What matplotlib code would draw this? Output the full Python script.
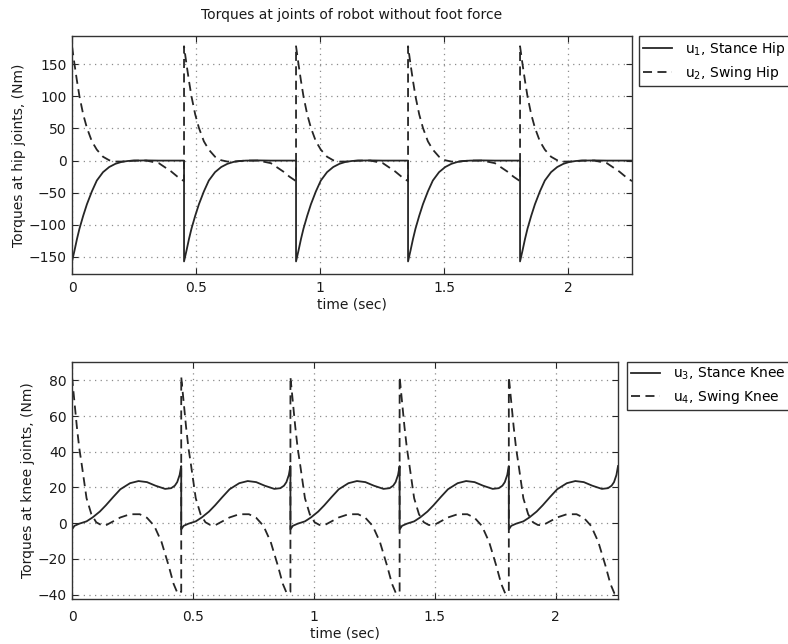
import numpy as np
import matplotlib
matplotlib.use('Agg')
import matplotlib.pyplot as plt

plt.rcParams['font.family'] = ['DejaVu Sans']
plt.rcParams['mathtext.default'] = 'regular'
plt.rcParams['font.size'] = 10

# one walking step, repeated for every step of the gait
step_time = 0.4516
n_steps = 5

# hip torques over one step (Nm)
hip_dt = [0, 0.01, 0.02, 0.03, 0.045, 0.06, 0.08, 0.10, 0.125, 0.15, 0.175,
          0.2, 0.225, 0.25, 0.3, 0.35, 0.4, 0.425, 0.4516]
u1_hip = [-157, -140, -122, -106, -86, -68, -48, -31, -18, -10, -5,
          -2, -0.6, 0, 0.3, 0, 0, 0, 0]
u2_hip = [178, 150, 124, 100, 72, 51, 30, 17, 6, 0.5, -1.5,
          -1.5, -0.7, 0, 0, -4, -17, -25, -32]

# knee torques over one step (Nm)
u3_dt = [0, 0.01, 0.03, 0.06, 0.085, 0.115, 0.14, 0.17, 0.2, 0.24, 0.275,
         0.31, 0.345, 0.385, 0.41, 0.425, 0.435, 0.445, 0.4516]
u3_knee = [-3.5, -1.5, -0.3, 1.0, 3.2, 6.5, 10, 14.6, 19, 22.4, 23.6,
           23, 21, 19.2, 19.6, 21, 23, 27, 32]
u4_dt = [0, 0.01, 0.02, 0.03, 0.04, 0.06, 0.08, 0.1, 0.12, 0.14, 0.17,
         0.2, 0.24, 0.28, 0.31, 0.34, 0.37, 0.4, 0.42, 0.437, 0.4516]
u4_knee = [82, 68, 54, 42, 33, 14, 5, 0.5, -1, -1.2, 1,
           3.2, 5, 5, 3, -1.5, -10.5, -24, -34, -39.5, -38.5]


def whole_gait(dt, vals):
    t = np.concatenate([k * step_time + np.asarray(dt) for k in range(n_steps)])
    v = np.tile(vals, n_steps)
    return t, v


def style_axes(ax, yticks, ylim, xpad):
    ax.set_xlim(0, 2.258)
    ax.set_ylim(*ylim)
    ax.set_xticks([0, 0.5, 1, 1.5, 2])
    ax.set_xticklabels(['0', '0.5', '1', '1.5', '2'])
    ax.set_yticks(yticks)
    ax.tick_params(direction='in', length=4, width=0.8, top=True, right=True,
                   colors='0.15', labelcolor='0.1', labelsize=10, pad=4)
    ax.tick_params(axis='x', pad=xpad)
    ax.grid(True, color='0.55', linestyle=(0, (1, 3.5)), linewidth=0.9)
    for s in ax.spines.values():
        s.set_color('0.2')
        s.set_linewidth(1.0)


fig = plt.figure(figsize=(7.88, 6.44), dpi=100)
ax1 = fig.add_axes([0.0914, 0.5745, 0.7107, 0.3696])
ax2 = fig.add_axes([0.0914, 0.0699, 0.6929, 0.3685])

dash = (0, (5, 3))
lc = '0.15'

t, v = whole_gait(hip_dt, u1_hip)
ax1.plot(t, v, color=lc, lw=1.3, label='u$_1$, Stance Hip')
t, v = whole_gait(hip_dt, u2_hip)
ax1.plot(t, v, color=lc, lw=1.3, linestyle=dash, label='u$_2$, Swing Hip')
style_axes(ax1, [-150, -100, -50, 0, 50, 100, 150], (-176.6, 194), 5)
ax1.set_title('Torques at joints of robot without foot force', fontsize=10, pad=12, color='0.1')
ax1.set_xlabel('time (sec)', labelpad=2, color='0.1')
ax1.set_ylabel('Torques at hip joints, (Nm)', labelpad=2, color='0.1')

t, v = whole_gait(u3_dt, u3_knee)
ax2.plot(t, v, color=lc, lw=1.3, label='u$_3$, Stance Knee')
t, v = whole_gait(u4_dt, u4_knee)
ax2.plot(t, v, color=lc, lw=1.3, linestyle=dash, label='u$_4$, Swing Knee')
style_axes(ax2, [-40, -20, 0, 20, 40, 60, 80], (-42.5, 90.5), 8)
ax2.set_xlabel('time (sec)', labelpad=2, color='0.1')
ax2.set_ylabel('Torques at knee joints, (Nm)', labelpad=2, color='0.1')

for ax, anchor in [(ax1, (0.811, 0.944)), (ax2, (0.7957, 0.438))]:
    leg = ax.legend(loc='upper left', bbox_to_anchor=anchor, bbox_transform=fig.transFigure,
                    borderaxespad=0, fancybox=False, framealpha=1, edgecolor='0.2',
                    handlelength=2.1, handletextpad=0.9, borderpad=0.3,
                    labelspacing=0.4, fontsize=10)
    leg.get_frame().set_linewidth(1.0)

fig.savefig('out.png', dpi=100)
